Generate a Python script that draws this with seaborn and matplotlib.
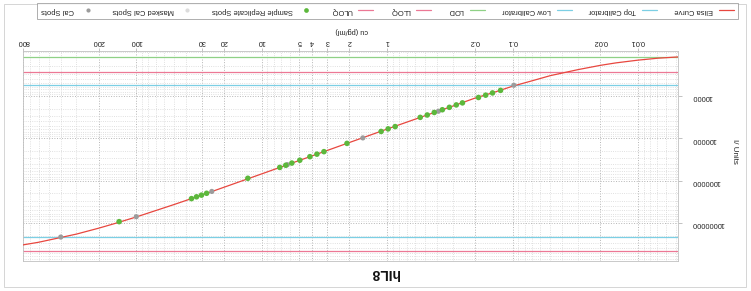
import matplotlib
matplotlib.use("Agg")
import matplotlib.pyplot as plt
import seaborn as sns
from matplotlib.lines import Line2D
from matplotlib.patches import Rectangle
from matplotlib.ticker import NullFormatter, FixedLocator, LogLocator

# ---------------- data ----------------
title = "hIL8"
x_label = "cu (pg/ml)"
y_label = "I/ Units"

curve_conc = [0.0048, 0.007, 0.01, 0.015, 0.02, 0.03, 0.05, 0.07, 0.1, 0.14,
              0.2, 0.3, 0.5, 1, 2, 5, 10, 20, 30, 50, 100, 150, 200, 300,
              400, 600, 800]
curve_signal = [1200, 1290, 1430, 1660, 1900, 2390, 3320, 4400, 5900, 8200,
                11300, 17400, 29400, 60600, 126000, 333000, 693000, 1435000,
                2190000, 3670000, 7210000, 10400000, 13300000, 18300000,
                22000000, 28500000, 32900000]

sample_conc = [137, 36.3, 33.1, 30.2, 27.5, 12.9, 7.18, 6.43, 5.75, 4.97,
               4.13, 3.63, 3.19, 2.09, 1.117, 0.982, 0.863, 0.545, 0.479,
               0.421, 0.363, 0.319, 0.281, 0.251, 0.187, 0.164, 0.1445, 0.1247]
sample_signal = [9.3e6, 2.66e6, 2.41e6, 2.2e6, 1.99e6, 8.8e5, 4.88e5, 4.34e5,
                 3.85e5, 3.3e5, 2.72e5, 2.37e5, 2.07e5, 1.32e5, 6.9e4, 6.0e4,
                 5.3e4, 3.21e4, 2.82e4, 2.46e4, 2.12e4, 1.86e4, 1.63e4,
                 1.46e4, 1.09e4, 9.6e3, 8.5e3, 7.4e3]

cal_conc = [400, 100, 25, 6.25, 1.5625, 0.39, 0.0977]
cal_signal = [2.15e7, 7.1e6, 1.8e6, 4.2e5, 9.8e4, 2.3e4, 5.6e3]

ref_names = ["Top Calibrator", "Low Calibrator", "LOD", "LLOQ", "ULOQ"]
ref_values = [2.12e7, 5500, 1230, 2750, 4.5e7]

x_ticks = [0.01, 0.02, 0.1, 0.2, 1, 2, 3, 4, 5, 10, 20, 30, 100, 200, 800]
x_tick_labels = ["0.01", "0.02", "0.1", "0.2", "1", "2", "3", "4", "5",
                 "10", "20", "30", "100", "200", "800"]
y_ticks = [1e4, 1e5, 1e6, 1e7]
y_tick_labels = ["10000", "100000", "1000000", "10000000"]

legend_order = ["Cal Spots", "Masked Cal Spots", "Sample Replicate Spots",
                "ULOQ", "LLOQ", "LOD", "Low Calibrator", "Top Calibrator",
                "Elisa Curve"]

# ---------------- style ----------------
C_CURVE = "#e8473f"
C_CYAN = "#7ccfe4"
C_PINK = "#ec7895"
C_GREEN_LINE = "#8fd186"
C_SAMPLE = "#5cb83c"
C_CAL = "#9c9c9c"
C_MASKED = "#dcdcdc"
ref_colors = {"Top Calibrator": C_CYAN, "Low Calibrator": C_CYAN,
              "LOD": C_GREEN_LINE, "LLOQ": C_PINK, "ULOQ": C_PINK}

sns.set_theme(style="white")
plt.rcParams['font.family'] = ['Liberation Sans', 'DejaVu Sans']

W, H = 751, 291
fig = plt.figure(figsize=(W / 100, H / 100), dpi=100)
ax = fig.add_axes([23 / W, 1 - 261 / H, 655 / W, 210 / H])
ax.set_xscale('log')
ax.set_yscale('log')

# grid
ax.set_axisbelow(True)
ax.xaxis.set_minor_locator(LogLocator(base=10, subs=range(2, 10), numticks=50))
ax.yaxis.set_minor_locator(LogLocator(base=10, subs=range(2, 10), numticks=50))
ax.grid(True, which='major', color='#b5b5b5', linestyle=':', linewidth=0.7)
ax.grid(True, which='minor', color='#d6d6d6', linestyle=':', linewidth=0.6)

# reference lines
for name, val in zip(ref_names, ref_values):
    ax.axhline(val, color=ref_colors[name], lw=0.9, zorder=2)

# curve and spots
sns.lineplot(x=curve_conc, y=curve_signal, ax=ax, color=C_CURVE, lw=0.9,
             sort=True, zorder=3, legend=False)
sns.scatterplot(x=cal_conc, y=cal_signal, ax=ax, color=C_CAL, s=14,
                edgecolor='none', zorder=4, legend=False)
sns.scatterplot(x=sample_conc, y=sample_signal, ax=ax, color=C_SAMPLE, s=16,
                edgecolor='none', zorder=5, legend=False)

# axes orientation (chart is shown turned upside-down)
ax.set_xlim(800, 0.0048)
ax.set_ylim(7.9e7, 870)

ax.xaxis.tick_top()
ax.xaxis.set_major_locator(FixedLocator(x_ticks))
ax.set_xticklabels(x_tick_labels)
ax.xaxis.set_minor_formatter(NullFormatter())
ax.yaxis.tick_right()
ax.yaxis.set_major_locator(FixedLocator(y_ticks))
ax.set_yticklabels(y_tick_labels)
ax.yaxis.set_minor_formatter(NullFormatter())

ax.tick_params(axis='x', which='major', labelsize=5.3, labelrotation=180,
               pad=2, length=2, width=0.5, color='#aaaaaa', labelcolor='#222222')
ax.tick_params(axis='y', which='major', labelsize=5.3, labelrotation=180,
               pad=7, length=3, width=0.5, color='#aaaaaa', labelcolor='#222222')
ax.tick_params(which='minor', length=0)

for sp in ax.spines.values():
    sp.set_color('#c0c0c0')
    sp.set_linewidth(0.6)

ax.set_xlabel(x_label, fontsize=5.3, rotation=180, color='#222222')
ax.xaxis.set_label_position('top')
ax.xaxis.set_label_coords((352 - 23) / 655, (261 - 32) / 210)
ax.set_ylabel(y_label, fontsize=5.8, rotation=270, color='#222222', va='center')
ax.yaxis.set_label_position('right')
ax.yaxis.set_label_coords((738 - 23) / 655, 0.52)

fig.text(385 / W, 1 - 273 / H, title, rotation=180, ha='center', va='center',
         fontsize=10, fontweight='bold', color='#111111')

# legend
def handle_for(name):
    if name == "Elisa Curve":
        return Line2D([], [], color=C_CURVE, lw=0.9)
    if name in ref_colors:
        return Line2D([], [], color=ref_colors[name], lw=0.9)
    if name == "Sample Replicate Spots":
        return Line2D([], [], ls='none', marker='o', markersize=3.4,
                      markerfacecolor=C_SAMPLE, markeredgecolor='none')
    if name == "Masked Cal Spots":
        return Line2D([], [], ls='none', marker='o', markersize=3,
                      markerfacecolor=C_MASKED, markeredgecolor='none')
    return Line2D([], [], ls='none', marker='o', markersize=3,
                  markerfacecolor=C_CAL, markeredgecolor='none')

handles = [handle_for(n) for n in legend_order]
lh = 17 / H
leg = fig.legend(handles, legend_order, loc='upper left',
                 bbox_to_anchor=(37 / W, 1 - 3 / H - lh, 701 / W, lh),
                 mode='expand', ncol=9, markerfirst=False, fontsize=5.4,
                 frameon=True, fancybox=False, edgecolor='#8a8a8a',
                 handlelength=2.0, handletextpad=0.8, borderpad=0.55,
                 borderaxespad=0, columnspacing=1.0)
leg.get_frame().set_linewidth(0.6)
for t in leg.get_texts():
    t.set_rotation(180)
    t.set_color('#222222')

# outer frame
fig.add_artist(Rectangle((4 / W, 4 / H), 742 / W, 283 / H,
                         transform=fig.transFigure, fill=False,
                         edgecolor='#cfcfcf', lw=0.6))

fig.savefig("out.png", dpi=100)
